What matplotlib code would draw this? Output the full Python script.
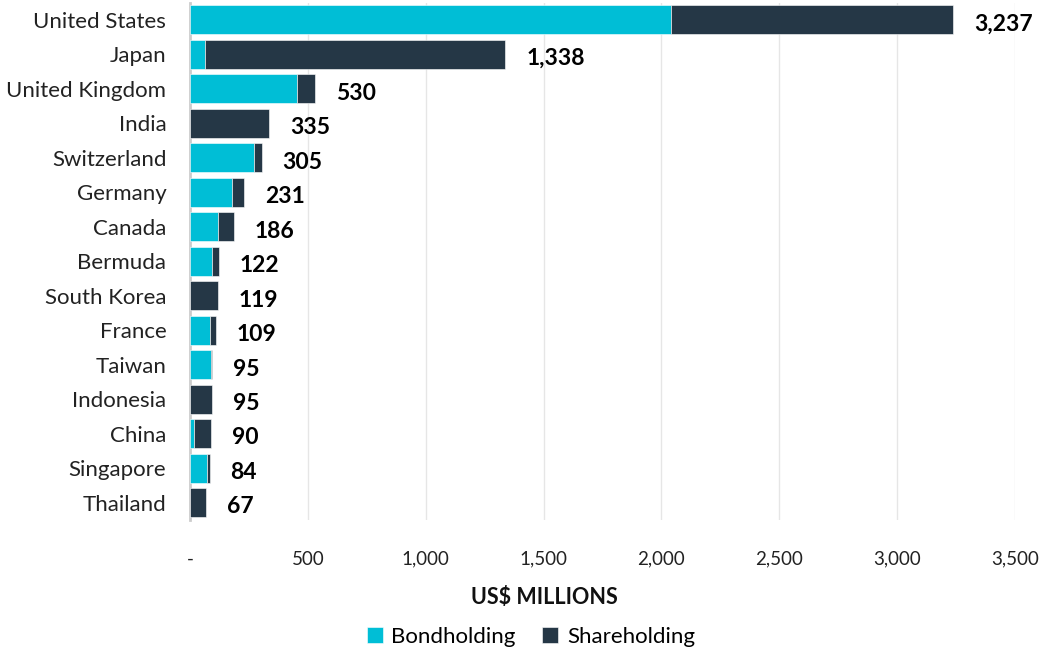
import matplotlib
matplotlib.use("Agg")
import matplotlib.pyplot as plt
from matplotlib.ticker import FuncFormatter
from matplotlib.transforms import offset_copy

plt.rcParams['font.family'] = ['Lato', 'DejaVu Sans']

countries = ["United States", "Japan", "United Kingdom", "India", "Switzerland",
             "Germany", "Canada", "Bermuda", "South Korea", "France", "Taiwan",
             "Indonesia", "China", "Singapore", "Thailand"]
bondholding = [2040, 62, 456, 0, 271, 179, 120, 92, 0, 86, 89, 0, 17, 73, 0]
shareholding = [1197, 1276, 74, 335, 34, 52, 66, 30, 119, 23, 6, 95, 73, 11, 67]
totals = [3237, 1338, 530, 335, 305, 231, 186, 122, 119, 109, 95, 95, 90, 84, 67]

bond_color = "#00BED6"
share_color = "#253746"

fig = plt.figure(figsize=(10.41, 6.51), dpi=100)
ax = fig.add_axes([0.1825, 0.2012, 0.7925, 0.7946])

y = list(range(len(countries)))
ax.barh(y, bondholding, height=0.84, color=bond_color, label="Bondholding",
        edgecolor="white", linewidth=0.4, zorder=3)
ax.barh(y, shareholding, left=bondholding, height=0.84, color=share_color,
        label="Shareholding", edgecolor="white", linewidth=0.4, zorder=3)

# value labels at the end of each bar
for i, t in enumerate(totals):
    trans = offset_copy(ax.transData, fig=fig, x=15, y=-3, units="points")
    ax.text(t, i, f"{t:,}", transform=trans, ha="left", va="center",
            fontsize=16.5, fontweight="bold", color="black")

ax.set_ylim(len(countries) - 0.5, -0.5)
ax.set_xlim(0, 3500)
ax.set_yticks(y)
ax.set_yticklabels(countries, fontsize=16)
ax.set_xticks(range(0, 3501, 500))
ax.xaxis.set_major_formatter(FuncFormatter(lambda v, p: "-" if v == 0 else f"{int(v):,}"))
ax.tick_params(axis="x", labelsize=13.5, length=0, pad=22, colors="#222222")
ax.tick_params(axis="y", length=0, pad=17, colors="#222222")

ax.grid(axis="x", color="#e6e6e6", linewidth=1, zorder=0)
for s in ["top", "right", "bottom"]:
    ax.spines[s].set_visible(False)
ax.spines["left"].set_color("#cccccc")
ax.spines["left"].set_linewidth(2)

fig.text(0.5226, 1 - 598 / 651, "US$ MILLIONS", ha="center", va="center",
         fontsize=15.5, fontweight="bold", color="#111111")

fig.legend(loc="center", bbox_to_anchor=(0.51, 1 - 637 / 651), ncol=2, frameon=False,
           fontsize=16, handlelength=0.7, handleheight=0.7, handletextpad=0.4,
           columnspacing=1.2)

fig.savefig("out.png", dpi=100)
